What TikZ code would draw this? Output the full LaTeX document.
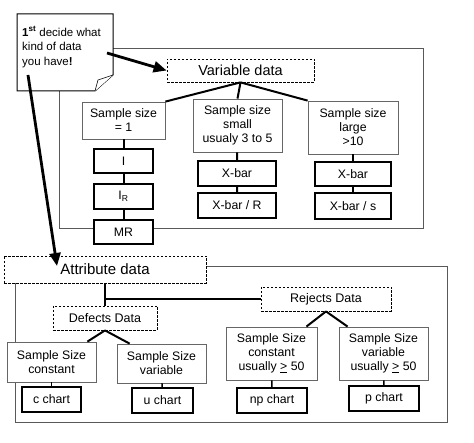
\documentclass[tikz,border=0pt]{standalone}
\usepackage{fontspec}
\setmainfont{Liberation Sans}
\usetikzlibrary{arrows.meta}
\usetikzlibrary{positioning}

\begin{document}
\begin{tikzpicture}[x=1pt,y=-1pt,
		frame/.style={draw=black!65, line width=0.8pt},
		group/.style={draw, dash pattern=on 2.5pt off 1.5pt, line width=0.8pt, fill=white, font=\fontsize{14.5}{16}\selectfont},
		sizebox/.style={draw=black!60, line width=0.8pt, fill=white, align=center, inner sep=1pt, font=\fontsize{12.3}{14}\selectfont},
		chart/.style={draw, line width=1.4pt, fill=white, inner sep=1pt, font=\fontsize{12.3}{14}\selectfont},
		link/.style={line width=2pt},
		pointer/.style={line width=2.8pt, -{Triangle[length=13pt,width=11pt]}}]
		\useasboundingbox (0,0) rectangle (474,443);
		
		% frames behind the boxes
		\draw [frame] (59,48) rectangle (423,228);
		\draw [frame] (15,266) rectangle (447,422);
		
		% the note
		\draw [line width=1pt, fill=white] (17,14) -- (113,14) -- (113,75) -- (95,91) -- (17,91) -- cycle;
		\draw [line width=0.6pt, fill=white] (95,91) -- (98,80) -- (113,75);
		\node [anchor=west, align=left, inner sep=0pt, font=\fontsize{11.5}{14.5}\selectfont] (note) at (22,47)
			{\textbf{1}\textsuperscript{\textbf{st}} decide what\\kind of data\\you have\textbf{!}};
		
		% variable data
		\node [group, minimum width=147pt, minimum height=23pt] (vardata) at (240.5,70.5) {Variable data};
		\node [sizebox, minimum width=83pt, minimum height=37pt] (ssone) at (123.5,120.5) {Sample size\\= 1};
		\node [sizebox, minimum width=89pt, minimum height=53pt] (sssmall) at (237.5,125.5) {Sample size\\small\\usualy 3 to 5};
		\node [sizebox, minimum width=90pt, minimum height=53pt] (sslarge) at (353,127.5) {Sample size\\large\\>10};
		
		\node [chart, minimum width=59pt, minimum height=24pt] (ichart) at (123.5,161) {I};
		\node [chart, minimum width=59pt, minimum height=25pt] (irchart) at (123.5,196.5) {I\textsubscript{R}};
		\node [chart, minimum width=59pt, minimum height=24pt] (mrchart) at (123.5,232) {MR};
		\node [chart, minimum width=78pt, minimum height=25pt] (xbarA) at (237,173.5) {X-bar};
		\node [chart, minimum width=78pt, minimum height=25pt] (xbarR) at (237,205.5) {X-bar / R};
		\node [chart, minimum width=76pt, minimum height=24pt] (xbarB) at (353,174) {X-bar};
		\node [chart, minimum width=76pt, minimum height=26pt] (xbarS) at (353,206) {X-bar / s};
		
		\draw [link] (vardata.south) -- (ssone.north east);
		\draw [link] (vardata.south) -- (sssmall.north);
		\draw [link] (vardata.south) -- (sslarge.north west);
		\draw [link] (ssone) -- (ichart) -- (irchart) -- (mrchart);
		\draw [link] (sssmall) -- (xbarA) -- (xbarR);
		\draw [link] (sslarge) -- (xbarB) -- (xbarS);
		
		% attribute data
		\node [group, minimum width=202pt, minimum height=27pt, font=\fontsize{15}{17}\selectfont] (attrdata) at (105,269.5) {Attribute data};
		\node [group, minimum width=104pt, minimum height=24pt, font=\fontsize{12.5}{14}\selectfont] (defects) at (105,318) {Defects Data};
		\node [group, minimum width=130pt, minimum height=24pt, font=\fontsize{12.5}{14}\selectfont] (rejects) at (326,299) {Rejects Data};
		
		\node [sizebox, minimum width=89pt, minimum height=40pt] (ssconst) at (51.5,362) {Sample Size\\constant};
		\node [sizebox, minimum width=89pt, minimum height=39pt] (ssvar) at (161.5,363.5) {Sample Size\\variable};
		\node [sizebox, minimum width=91pt, minimum height=53pt] (ssconstB) at (271.5,353.5) {Sample Size\\constant\\usually \underline{>} 50};
		\node [sizebox, minimum width=89pt, minimum height=53pt] (ssvarB) at (383.5,353.5) {Sample Size\\variable\\usually \underline{>} 50};
		
		\node [chart, minimum width=59pt, minimum height=25pt] (cchart) at (51.5,399.5) {c chart};
		\node [chart, minimum width=61pt, minimum height=25pt] (uchart) at (162.5,400.5) {u chart};
		\node [chart, minimum width=70pt, minimum height=25pt] (npchart) at (272,400.5) {np chart};
		\node [chart, minimum width=70pt, minimum height=25pt] (pchart) at (384,398.5) {p chart};
		
		\draw [link] (attrdata.south) -- (defects.north);
		\draw [link] (attrdata.south |- rejects.west) -- (rejects.west);
		\draw [link] (defects.south) -- ([xshift=-9pt]ssconst.north east);
		\draw [link] (defects.south) -- ([xshift=13pt]ssvar.north west);
		\draw [link] (rejects.south) -- ([xshift=-11pt]ssconstB.north east);
		\draw [link] (rejects.south) -- ([xshift=9pt]ssvarB.north west);
		\draw [link, line width=1.6pt] (ssconst) -- (cchart);
		\draw [link, line width=1.6pt] (ssvar) -- (uchart);
		\draw [link, line width=1.6pt] (ssconstB) -- (npchart);
		\draw [link, line width=1.6pt] (ssvarB) -- (pchart);
		
		% pointers from the note
		\coordinate (fromA) at (107,53);
		\coordinate (fromB) at (28,75);
		\coordinate (tipB) at (57,266);
		\draw [pointer] (fromA) -- (vardata.west);
		\draw [pointer] (fromB) -- (tipB);
	\end{tikzpicture}
\end{document}
